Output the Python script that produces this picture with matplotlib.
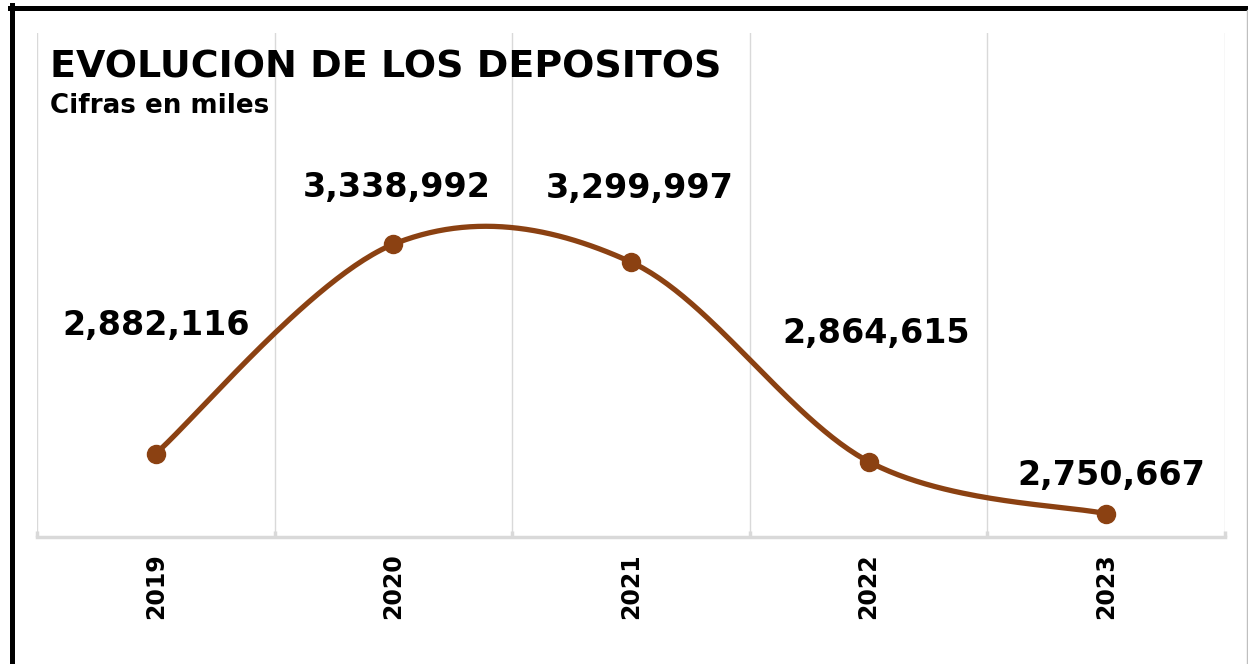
import matplotlib
matplotlib.use('Agg')
import matplotlib.pyplot as plt
from matplotlib.lines import Line2D
from matplotlib.ticker import FixedLocator
import numpy as np

# datos
anios = ['2019', '2020', '2021', '2022', '2023']
depositos = [2882116, 3338992, 3299997, 2864615, 2750667]

titulo = 'EVOLUCION DE LOS DEPOSITOS'
subtitulo = 'Cifras en miles'

# desplazamiento de las etiquetas (pixeles)
desp_etiquetas = [(0, 128), (3, 57), (9, 74), (8, 128), (5, 38)]

COLOR = '#8B4112'
GRIS = '#D9D9D9'

plt.rcParams['font.family'] = ['DejaVu Sans']


def curva_suave(puntos, n=60):
    # bezier tipo Catmull-Rom (como el suavizado de Excel)
    p = np.vstack([puntos[0], puntos, puntos[-1]])
    salida = []
    for i in range(1, len(p) - 2):
        p0, p1, p2, p3 = p[i - 1], p[i], p[i + 1], p[i + 2]
        c1 = p1 + (p2 - p0) / 6
        c2 = p2 - (p3 - p1) / 6
        t = np.linspace(0, 1, n)[:, None]
        b = ((1 - t) ** 3) * p1 + 3 * ((1 - t) ** 2) * t * c1 + 3 * (1 - t) * t ** 2 * c2 + t ** 3 * p2
        salida.append(b)
    return np.vstack(salida)


fig = plt.figure(figsize=(12.48, 6.64), dpi=100)
ax = fig.add_axes([37 / 1248, 1 - 537 / 664, 1188 / 1248, 504 / 664])

x = np.arange(len(anios))
ax.set_xlim(-0.5, len(anios) - 0.5)
ax.set_ylim(2700000, 3800000)

# curva suavizada en coordenadas de pantalla
pts = ax.transData.transform(np.column_stack([x, depositos]))
curva = ax.transData.inverted().transform(curva_suave(pts))
ax.plot(curva[:, 0], curva[:, 1], color=COLOR, lw=3.8, solid_capstyle='round', zorder=3)
ax.plot(x, depositos, 'o', color=COLOR, ms=13, zorder=4)

for xi, v, (dx, dy) in zip(x, depositos, desp_etiquetas):
    ax.annotate(f'{v:,}', (xi, v), xytext=(dx, dy), textcoords='offset pixels',
                ha='center', va='center', fontsize=24, fontweight='bold', color='black')

# ejes
ax.set_xticks(x)
ax.set_xticklabels(anios, rotation=90, fontsize=17, fontweight='bold')
ax.tick_params(axis='x', which='major', length=0, pad=12)
ax.xaxis.set_minor_locator(FixedLocator(np.arange(-0.5, len(anios), 1)))
ax.tick_params(axis='x', which='minor', length=4, width=2.5, color=GRIS, direction='in')
ax.grid(True, which='minor', axis='x', color=GRIS, lw=1)
ax.set_yticks([])
for s in ['top', 'right', 'left']:
    ax.spines[s].set_visible(False)
ax.spines['bottom'].set_color(GRIS)
ax.spines['bottom'].set_linewidth(2.5)

# titulos
fig.text(50 / 1248, 1 - 77 / 664, titulo, fontsize=27.4, fontweight='bold', va='baseline')
fig.text(50 / 1248, 1 - 113 / 664, subtitulo, fontsize=18.8, fontweight='bold', va='baseline')

# marco
fig.add_artist(Line2D([11.5 / 1248, 11.5 / 1248], [0, 1 - 5 / 664], color='black', lw=3.6,
                      transform=fig.transFigure))
fig.add_artist(Line2D([9.5 / 1248, 1], [1 - 7.5 / 664, 1 - 7.5 / 664], color='black', lw=3.6,
                      transform=fig.transFigure))
fig.add_artist(Line2D([1246.5 / 1248, 1246.5 / 1248], [0, 1 - 10 / 664], color='#BFBFBF', lw=1,
                      transform=fig.transFigure))

fig.savefig('out.png', dpi=100)
